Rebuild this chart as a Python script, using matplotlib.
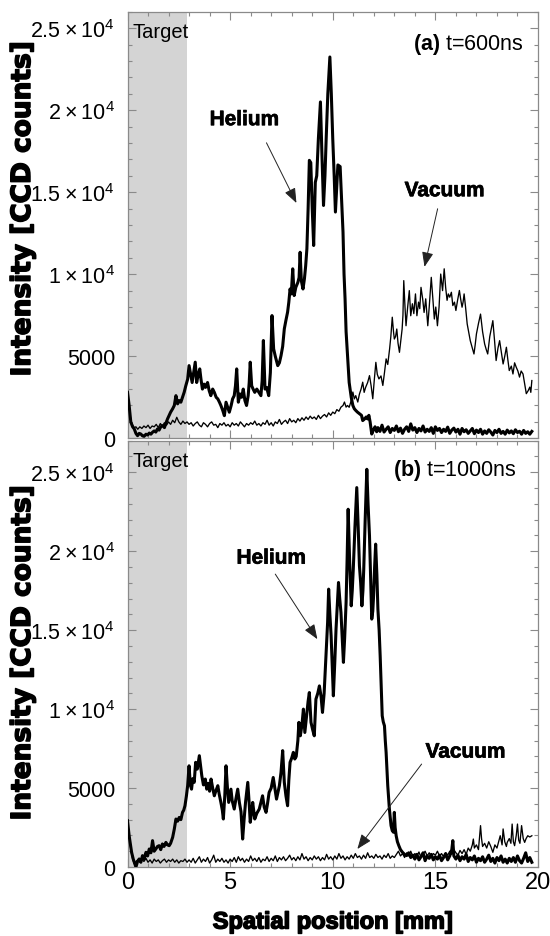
import matplotlib
matplotlib.use("Agg")
import matplotlib.pyplot as plt
from matplotlib import patheffects as pe
from matplotlib.transforms import ScaledTranslation
from matplotlib.ticker import MultipleLocator, FixedLocator, FixedFormatter

# ---------------------------------------------------------------- data
# (a) t = 600 ns
he600_x = [0.0, 0.08, 0.16, 0.25, 0.33, 0.41, 0.49, 0.57, 0.65, 0.73, 0.81, 0.9, 0.98, 1.06, 1.14, 1.22,
           1.3, 1.38, 1.46, 1.54, 1.62, 1.71, 1.8, 1.88, 1.95, 2.03, 2.1, 2.2, 2.28, 2.36, 2.44, 2.52,
           2.6, 2.68, 2.76, 2.84, 2.93, 3.0, 3.08, 3.15, 3.22, 3.3, 3.37, 3.45, 3.52, 3.58, 3.65, 3.73,
           3.8, 3.9, 3.98, 4.06, 4.15, 4.23, 4.32, 4.4, 4.48, 4.55, 4.64, 4.72, 4.8, 4.88, 4.96, 5.05,
           5.12, 5.2, 5.26, 5.32, 5.4, 5.48, 5.56, 5.64, 5.72, 5.8, 5.88, 5.93, 5.98, 6.05, 6.12, 6.2,
           6.3, 6.4, 6.5, 6.56, 6.62, 6.7, 6.78, 6.88, 6.96, 7.04, 7.12, 7.2, 7.32, 7.4, 7.48, 7.56,
           7.64, 7.72, 7.8, 7.86, 7.92, 7.98, 8.05, 8.12, 8.2, 8.3, 8.36, 8.41, 8.47, 8.55, 8.62, 8.68,
           8.74, 8.8, 8.86, 8.93, 9.0, 9.07, 9.15, 9.22, 9.3, 9.4, 9.48, 9.55, 9.62, 9.68, 9.76, 9.86,
           9.93, 10.0, 10.07, 10.13, 10.2, 10.25, 10.36, 10.43, 10.5, 10.55, 10.6, 10.65, 10.7, 10.75, 10.8, 10.9,
           10.98, 11.05, 11.12, 11.2, 11.3, 11.4, 11.46, 11.55, 11.63, 11.7, 11.76, 11.82, 11.9, 11.98, 12.06, 12.14,
           12.2, 12.3, 12.4, 12.5, 12.6, 12.7, 12.8, 12.9, 13.0, 13.1, 13.2, 13.3, 13.4, 13.5, 13.6, 13.7,
           13.8, 13.9, 14.0, 14.1, 14.2, 14.3, 14.4, 14.5, 14.6, 14.7, 14.8, 14.9, 15.0, 15.1, 15.2, 15.3,
           15.4, 15.5, 15.6, 15.7, 15.8, 15.9, 16.0, 16.1, 16.2, 16.3, 16.4, 16.5, 16.6, 16.7, 16.8, 16.9,
           17.0, 17.1, 17.2, 17.3, 17.4, 17.5, 17.6, 17.7, 17.8, 17.9, 18.0, 18.1, 18.2, 18.3, 18.4, 18.5,
           18.6, 18.7, 18.8, 18.9, 19.0, 19.1, 19.2, 19.3, 19.4, 19.5, 19.6, 19.7]
he600_y = [2800, 2000, 1000, 700, 570, 300, 160, 300, 260, 150, 120, 250, 200, 320, 250, 370,
           450, 380, 570, 500, 700, 770, 650, 950, 1180, 1400, 1590, 1800, 2000, 2600, 2100, 2300,
           2200, 2500, 2800, 3200, 3600, 4430, 3900, 3400, 4000, 4640, 3400, 3900, 4230, 3600, 3000, 3300,
           3100, 3400, 2900, 2600, 3000, 2800, 2500, 2400, 2200, 2000, 1700, 1380, 2200, 1900, 1590, 2000,
           2400, 2600, 3200, 4230, 2200, 2700, 2500, 3000, 2300, 2000, 2600, 3400, 4640, 3200, 3000, 2800,
           3000, 2800, 2600, 3500, 5960, 3000, 3100, 2600, 4000, 7480, 5450, 5000, 4430, 4600, 5040, 5600,
           6670, 7200, 7690, 8300, 9100, 8800, 10330, 8700, 9200, 9500, 9800, 11340, 9600, 9100, 9720, 10500,
           11550, 14000, 16940, 16800, 14000, 11750, 15600, 16000, 18260, 20500, 17000, 14190, 16000, 18260, 21000, 23240,
           21000, 18260, 16000, 13790, 15500, 16660, 16560, 14500, 12570, 10000, 8500, 6500, 5500, 4400, 3400, 2500,
           2000, 1800, 1700, 1600, 1500, 1400, 1080, 1180, 1300, 1180, 1400, 1000, 260, 500, 700, 400,
           650, 420, 800, 380, 550, 700, 350, 600, 480, 750, 400, 620, 300, 550, 700, 420,
           880, 500, 650, 350, 600, 450, 750, 380, 550, 420, 650, 300, 700, 480, 600, 350,
           550, 420, 680, 300, 500, 620, 380, 550, 250, 600, 400, 520, 300, 450, 600, 280,
           500, 350, 550, 250, 450, 300, 520, 380, 200, 480, 350, 550, 300, 420, 250, 500,
           330, 450, 280, 520, 350, 430, 250, 480, 300, 400, 250, 420]

vac600_x = [0.0, 0.08, 0.16, 0.25, 0.33, 0.41, 0.5, 0.6, 0.7, 0.8, 0.9, 1.0, 1.1, 1.2, 1.3, 1.4,
            1.5, 1.6, 1.7, 1.8, 1.9, 2.0, 2.1, 2.2, 2.3, 2.4, 2.5, 2.6, 2.7, 2.8, 2.9, 3.0,
            3.1, 3.2, 3.3, 3.4, 3.5, 3.6, 3.7, 3.8, 3.9, 4.0, 4.1, 4.2, 4.3, 4.4, 4.5, 4.6,
            4.7, 4.8, 4.9, 5.0, 5.1, 5.2, 5.3, 5.4, 5.5, 5.6, 5.7, 5.8, 5.9, 6.0, 6.1, 6.2,
            6.3, 6.4, 6.5, 6.6, 6.7, 6.8, 6.9, 7.0, 7.1, 7.2, 7.3, 7.4, 7.5, 7.6, 7.7, 7.8,
            7.9, 8.0, 8.1, 8.2, 8.3, 8.4, 8.5, 8.6, 8.7, 8.8, 8.9, 9.0, 9.1, 9.2, 9.3, 9.4,
            9.5, 9.6, 9.7, 9.8, 9.9, 10.0, 10.1, 10.2, 10.3, 10.4, 10.5, 10.57, 10.65, 10.72, 10.8, 10.9,
            10.98, 11.05, 11.12, 11.22, 11.3, 11.38, 11.46, 11.53, 11.6, 11.7, 11.79, 11.87, 11.95, 12.02, 12.1, 12.17,
            12.25, 12.35, 12.44, 12.52, 12.6, 12.68, 12.77, 12.83, 12.9, 12.96, 13.0, 13.06, 13.12, 13.18, 13.25, 13.32,
            13.38, 13.42, 13.46, 13.52, 13.57, 13.65, 13.73, 13.8, 13.88, 13.95, 14.03, 14.1, 14.18, 14.24, 14.3, 14.38,
            14.45, 14.53, 14.63, 14.7, 14.8, 14.88, 14.95, 15.02, 15.1, 15.18, 15.26, 15.35, 15.43, 15.5, 15.57, 15.63,
            15.7, 15.78, 15.85, 15.93, 16.0, 16.08, 16.17, 16.23, 16.3, 16.35, 16.4, 16.47, 16.55, 16.62, 16.7, 16.78,
            16.88, 16.94, 17.0, 17.1, 17.2, 17.3, 17.4, 17.48, 17.55, 17.65, 17.8, 17.88, 17.96, 18.05, 18.13, 18.22,
            18.3, 18.38, 18.46, 18.53, 18.6, 18.7, 18.78, 18.86, 18.94, 19.02, 19.1, 19.18, 19.27, 19.35, 19.43, 19.52,
            19.6, 19.65, 19.7]
vac600_y = [2800, 2000, 1100, 800, 650, 700, 550, 700, 600, 750, 650, 800, 600, 750, 700, 850,
            650, 900, 750, 950, 800, 1000, 850, 1100, 950, 1280, 1000, 850, 1050, 900, 1000, 850,
            950, 750, 900, 1000, 800, 700, 950, 850, 700, 900, 1000, 800, 850, 650, 900, 800,
            950, 750, 850, 700, 950, 800, 900, 750, 1000, 850, 700, 900, 800, 950, 850, 1050,
            800, 900, 750, 950, 850, 1100, 800, 950, 750, 1000, 900, 1150, 850, 1000, 1100, 900,
            1200, 1000, 1100, 950, 1200, 1050, 1250, 1100, 1300, 1150, 1350, 1200, 1300, 1150, 1400, 1200,
            1350, 1450, 1300, 1550, 1400, 1600, 1500, 1750, 1650, 1900, 2000, 2210, 1900, 2000, 1890, 2300,
            2820, 2400, 2600, 2210, 2700, 3000, 3420, 2800, 3100, 3400, 3820, 3200, 2410, 3500, 4630, 3900,
            3620, 3800, 3220, 4000, 4840, 4500, 5450, 6200, 7380, 6500, 6050, 6200, 6660, 5800, 5240, 6000,
            6660, 7500, 9610, 8000, 6860, 8000, 9000, 7470, 8200, 7600, 8800, 7470, 8300, 7900, 9200, 8500,
            7670, 8500, 6860, 8000, 9810, 8500, 7270, 8000, 6860, 8000, 10010, 9000, 10330, 9200, 8410, 8800,
            8600, 8900, 8090, 8300, 7790, 8400, 9010, 8500, 7990, 8300, 8800, 8000, 6970, 6500, 5950, 5600,
            5140, 5700, 6360, 7000, 7570, 6500, 5750, 5400, 5140, 6200, 7170, 6000, 4740, 5500, 5950, 5200,
            4530, 5000, 5550, 4800, 4130, 4400, 3920, 4600, 4330, 4100, 3730, 4100, 3920, 3300, 2720, 2900,
            3120, 2800, 3520]

# (b) t = 1000 ns
he1000_x = [0.0, 0.08, 0.2, 0.28, 0.33, 0.41, 0.49, 0.57, 0.65, 0.73, 0.81, 0.9, 0.98, 1.06, 1.14, 1.22,
            1.3, 1.38, 1.46, 1.54, 1.62, 1.7, 1.78, 1.87, 1.95, 2.03, 2.1, 2.2, 2.28, 2.36, 2.44, 2.52,
            2.6, 2.68, 2.74, 2.8, 2.87, 2.93, 3.0, 3.06, 3.12, 3.18, 3.25, 3.32, 3.4, 3.5, 3.56, 3.62,
            3.7, 3.79, 3.86, 3.94, 4.0, 4.07, 4.15, 4.23, 4.3, 4.4, 4.47, 4.55, 4.62, 4.67, 4.74, 4.8,
            4.87, 4.93, 5.04, 5.1, 5.2, 5.28, 5.37, 5.45, 5.53, 5.61, 5.68, 5.75, 5.86, 5.93, 5.98, 6.05,
            6.1, 6.2, 6.3, 6.42, 6.5, 6.58, 6.66, 6.75, 6.82, 6.9, 7.0, 7.1, 7.18, 7.26, 7.34, 7.4,
            7.48, 7.56, 7.64, 7.72, 7.8, 7.86, 7.92, 8.0, 8.08, 8.15, 8.22, 8.3, 8.35, 8.42, 8.5, 8.57,
            8.64, 8.72, 8.8, 8.86, 8.94, 9.02, 9.1, 9.18, 9.27, 9.35, 9.43, 9.5, 9.58, 9.68, 9.75, 9.8,
            9.86, 9.92, 9.98, 10.03, 10.1, 10.16, 10.22, 10.28, 10.34, 10.4, 10.46, 10.52, 10.58, 10.65, 10.7, 10.75,
            10.82, 10.9, 10.95, 11.0, 11.08, 11.17, 11.24, 11.3, 11.36, 11.42, 11.47, 11.51, 11.58, 11.66, 11.72, 11.79,
            11.85, 11.9, 11.95, 11.99, 12.04, 12.09, 12.15, 12.2, 12.26, 12.31, 12.36, 12.41, 12.46, 12.52, 12.56, 12.6,
            12.68, 12.76, 12.84, 12.9, 12.96, 13.0, 13.04, 13.09, 13.15, 13.22, 13.3, 13.4, 13.5, 13.6, 13.7, 13.8,
            13.9, 14.0, 14.1, 14.2, 14.3, 14.4, 14.5, 14.6, 14.7, 14.8, 14.9, 15.0, 15.1, 15.2, 15.3, 15.4,
            15.5, 15.6, 15.7, 15.8, 15.85, 15.9, 16.0, 16.1, 16.2, 16.3, 16.4, 16.5, 16.6, 16.7, 16.8, 16.9,
            17.0, 17.1, 17.2, 17.3, 17.4, 17.5, 17.6, 17.7, 17.8, 17.9, 18.0, 18.1, 18.2, 18.3, 18.4, 18.5,
            18.6, 18.7, 18.8, 18.9, 19.0, 19.1, 19.2, 19.3, 19.4, 19.5, 19.6, 19.7]
he1000_y = [2930, 1980, 930, 500, 300, 0, 350, 510, 300, 720, 500, 930, 700, 1140, 900, 1670,
            1000, 1140, 1300, 1350, 1100, 1460, 1300, 1560, 1400, 1350, 1500, 1880, 2400, 3040, 2900, 3140,
            3000, 3460, 3600, 3880, 4500, 5150, 6410, 5200, 4930, 5600, 5360, 6630, 6200, 7050, 6400, 5780,
            5200, 5570, 4930, 5300, 4800, 5570, 5000, 4510, 4800, 5150, 4600, 4090, 3600, 3040, 4500, 6410,
            5000, 4090, 4930, 4200, 3670, 4300, 4930, 4090, 3500, 1770, 3000, 4090, 5360, 4000, 2830, 3500,
            4090, 3040, 3400, 3670, 4100, 4510, 3800, 3460, 4000, 4720, 5000, 5670, 5000, 4300, 4800, 5150,
            6000, 7370, 5360, 4500, 3880, 5500, 6630, 6900, 7260, 6840, 7000, 8000, 9160, 8310, 9000, 10000,
            8520, 9500, 10500, 11050, 9160, 8700, 8310, 10630, 11000, 11470, 10800, 9790, 11000, 13590, 15500, 17600,
            16000, 14650, 12500, 10840, 13000, 15070, 16500, 18020, 17000, 16120, 14500, 12960, 14500, 16750, 19500, 22660,
            19500, 16540, 17500, 18860, 21500, 24030, 21500, 19070, 18000, 16540, 17500, 18860, 22000, 25190, 23000, 20970,
            18000, 15700, 16200, 17180, 19000, 20450, 18500, 16330, 15000, 13380, 11500, 9580, 9200, 8940, 8000, 7260,
            5150, 3670, 2620, 2300, 2200, 3460, 2500, 1980, 1600, 1350, 1100, 930, 800, 720, 900, 600,
            750, 500, 800, 450, 650, 900, 400, 700, 550, 800, 450, 650, 500, 750, 400, 600,
            850, 450, 700, 1100, 1670, 700, 500, 750, 400, 650, 500, 800, 350, 600, 450, 700,
            300, 550, 400, 650, 300, 500, 750, 350, 550, 250, 600, 400, 700, 300, 500, 250,
            550, 350, 600, 300, 700, 400, 250, 550, 900, 350, 600, 300]

vac1000_x = [0.0, 0.08, 0.16, 0.25, 0.33, 0.41, 0.5, 0.6, 0.7, 0.8, 0.9, 1.0, 1.1, 1.2, 1.3, 1.4,
             1.5, 1.6, 1.7, 1.8, 1.9, 2.0, 2.1, 2.2, 2.3, 2.4, 2.5, 2.6, 2.7, 2.8, 2.9, 3.0,
             3.1, 3.2, 3.3, 3.4, 3.5, 3.6, 3.7, 3.8, 3.9, 4.0, 4.1, 4.2, 4.3, 4.4, 4.5, 4.6,
             4.7, 4.8, 4.9, 5.0, 5.1, 5.2, 5.3, 5.4, 5.5, 5.6, 5.7, 5.8, 5.9, 6.0, 6.1, 6.2,
             6.3, 6.4, 6.5, 6.6, 6.7, 6.8, 6.9, 7.0, 7.1, 7.2, 7.3, 7.4, 7.5, 7.6, 7.7, 7.8,
             7.9, 8.0, 8.1, 8.2, 8.3, 8.4, 8.5, 8.6, 8.7, 8.8, 8.9, 9.0, 9.1, 9.2, 9.3, 9.4,
             9.5, 9.6, 9.7, 9.8, 9.9, 10.0, 10.1, 10.2, 10.3, 10.4, 10.5, 10.6, 10.7, 10.8, 10.9, 11.0,
             11.1, 11.2, 11.3, 11.4, 11.5, 11.6, 11.7, 11.8, 11.9, 12.0, 12.1, 12.2, 12.3, 12.4, 12.5, 12.6,
             12.7, 12.8, 12.9, 13.0, 13.1, 13.2, 13.3, 13.4, 13.5, 13.6, 13.7, 13.8, 13.9, 14.0, 14.1, 14.2,
             14.3, 14.4, 14.5, 14.6, 14.7, 14.8, 14.9, 15.0, 15.1, 15.2, 15.3, 15.4, 15.5, 15.6, 15.7, 15.8,
             15.9, 16.0, 16.1, 16.2, 16.3, 16.4, 16.5, 16.6, 16.7, 16.8, 16.85, 16.9, 17.0, 17.1, 17.2, 17.25,
             17.3, 17.4, 17.5, 17.6, 17.7, 17.8, 17.9, 18.0, 18.1, 18.16, 18.25, 18.3, 18.38, 18.46, 18.5, 18.6,
             18.68, 18.74, 18.8, 18.86, 18.94, 19.0, 19.06, 19.12, 19.2, 19.28, 19.35, 19.42, 19.5, 19.6, 19.7]
vac1000_y = [2930, 2000, 1100, 500, 200, 350, 450, 300, 500, 350, 550, 300, 450, 250, 500, 350,
             450, 250, 400, 500, 300, 450, 350, 500, 300, 450, 250, 400, 350, 500, 300, 450,
             300, 550, 250, 450, 650, 300, 500, 350, 600, 250, 450, 750, 300, 500, 350, 550,
             300, 450, 250, 500, 350, 600, 300, 650, 400, 550, 300, 500, 350, 700, 400, 550,
             350, 600, 300, 500, 400, 650, 350, 550, 400, 700, 350, 600, 450, 650, 400, 550,
             750, 450, 600, 400, 650, 450, 850, 500, 650, 400, 600, 450, 700, 500, 650, 400,
             600, 450, 800, 500, 650, 450, 700, 500, 850, 550, 700, 450, 650, 500, 750, 550,
             850, 600, 700, 500, 750, 550, 900, 600, 700, 550, 800, 600, 700, 500, 750, 600,
             850, 550, 700, 600, 800, 1000, 700, 850, 600, 900, 700, 1000, 650, 850, 700, 950,
             600, 800, 1000, 700, 900, 650, 850, 750, 1000, 700, 850, 650, 900, 750, 1000, 800,
             1100, 900, 750, 1050, 850, 1100, 800, 1200, 1000, 1400, 1770, 1200, 1400, 1100, 2620, 1800,
             1300, 1500, 1200, 1600, 1300, 930, 1400, 1200, 1700, 1980, 1400, 2410, 1600, 1300, 1560, 1800,
             1500, 2720, 1600, 1350, 2000, 2720, 1700, 1500, 2620, 1800, 1560, 1800, 1980, 1900, 1980]

target_edge = 2.9                      # mm, extent of the shaded target region
y_top = [26000, 27000]                 # upper y limits of panels (a) and (b)
panel_titles = [("(a)", "t=600ns"), ("(b)", "t=1000ns")]
ytick_values = [0, 5000, 10000, 15000, 20000, 25000]
ytick_labels = ["0", "5000",
                r"$\mathregular{1\times10^{4}}$", r"$\mathregular{1.5\times10^{4}}$",
                r"$\mathregular{2\times10^{4}}$", r"$\mathregular{2.5\times10^{4}}$"]

# ---------------------------------------------------------------- style
SANS = "Liberation Sans"
plt.rcParams["mathtext.fontset"] = "custom"
plt.rcParams["mathtext.rm"] = SANS
plt.rcParams["mathtext.bf"] = SANS + ":bold"

FRAME = "#8a8a8a"
heavy = [pe.withStroke(linewidth=1.1, foreground="black")]
semi_heavy = [pe.withStroke(linewidth=0.5, foreground="black")]

fig = plt.figure(figsize=(5.5, 9.37), dpi=100)
left, width = 127.5 / 550, 410.5 / 550
ax_a = fig.add_axes([left, 1 - 439.3 / 937, width, 426.6 / 937])
ax_b = fig.add_axes([left, 1 - 868.0 / 937, width, 426.3 / 937])

for i, (ax, he_x, he_y, va_x, va_y) in enumerate([
        (ax_a, he600_x, he600_y, vac600_x, vac600_y),
        (ax_b, he1000_x, he1000_y, vac1000_x, vac1000_y)]):
    ax.axvspan(0, target_edge, color="#d4d4d4", lw=0, zorder=0)
    ax.plot(va_x, va_y, color="black", lw=0.95, zorder=2)
    ax.plot(he_x, he_y, color="black", lw=2.2, zorder=3, solid_joinstyle="round")
    ax.set_xlim(0, 20)
    ax.set_ylim(0, y_top[i])

    for sp in ax.spines.values():
        sp.set_color(FRAME)
        sp.set_linewidth(0.9)
    ax.xaxis.set_major_locator(MultipleLocator(5))
    ax.xaxis.set_minor_locator(MultipleLocator(1))
    ax.yaxis.set_major_locator(FixedLocator(ytick_values))
    ax.yaxis.set_major_formatter(FixedFormatter(ytick_labels))
    ax.yaxis.set_minor_locator(MultipleLocator(1000))
    ax.tick_params(which="both", direction="in", top=True, right=True, color=FRAME, width=0.8)
    ax.tick_params(which="major", length=5.5)
    ax.tick_params(which="minor", length=3.2)
    ax.tick_params(axis="y", which="major", pad=9, labelsize=15.5)
    ax.tick_params(axis="x", which="major", pad=3, labelsize=17)
    for lab in ax.get_yticklabels() + ax.get_xticklabels():
        lab.set_family(SANS)

    ax.text(0.012, 0.976, "Target", transform=ax.transAxes, ha="left", va="top",
            family=SANS, fontsize=14.5)
    tag, when = panel_titles[i]
    ax.text([0.966, 0.949][i], [0.9266, 0.9336][i], r"$\mathbf{%s}$ %s" % (tag, when),
            transform=ax.transAxes, ha="right", va="center", family=SANS, fontsize=15.5)

ax_a.tick_params(axis="x", labelbottom=False)

# curve annotations
arrow = dict(arrowstyle="-|>,head_length=0.9,head_width=0.35", color="#222222",
             lw=0.7, shrinkA=0, shrinkB=0)
label_kw = dict(ha="center", va="center", family=SANS, weight="bold", fontsize=15,
                path_effects=semi_heavy)
ax_a.text(5.7, 19420, "Helium", **label_kw)
ax_a.annotate("", xy=(8.23, 14340), xytext=(6.77, 18010), arrowprops=arrow)
ax_a.text(15.45, 15090, "Vacuum", **label_kw)
ax_a.annotate("", xy=(14.47, 10450), xytext=(15.11, 13990), arrowprops=arrow)
ax_b.text(7.01, 19560, "Helium", **label_kw)
ax_b.annotate("", xy=(9.25, 14430), xytext=(7.2, 18550), arrowprops=arrow)
ax_b.text(16.47, 7280, "Vacuum", **label_kw)
ax_b.annotate("", xy=(11.2, 1140), xytext=(14.33, 6520), arrowprops=arrow)

# axis titles
for yc in (210, 654):
    fig.text(23 / 550, 1 - yc / 937, "Intensity [CCD counts]", rotation=90,
             ha="center", va="center", family="DejaVu Sans", weight="bold", fontsize=19,
             path_effects=heavy)
fig.text(333 / 550, 1 - 923 / 937, "Spatial position [mm]", ha="center", va="center",
         family=SANS, weight="bold", fontsize=17, path_effects=heavy)

# keep the last x tick label ("20") inside the figure edge
fig.canvas.draw()
last = ax_b.xaxis.get_major_ticks()[-1].label1
last.set_transform(last.get_transform() + ScaledTranslation(-4 / 72, 0, fig.dpi_scale_trans))

fig.savefig("out.png", dpi=100)
